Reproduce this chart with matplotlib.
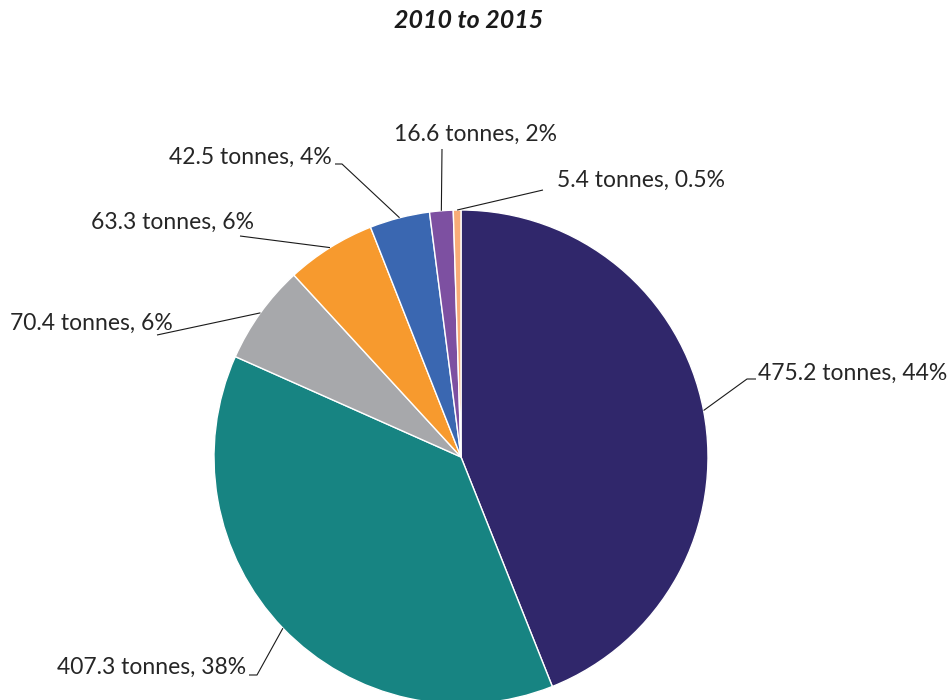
import numpy as np
import matplotlib.pyplot as plt

plt.rcParams['font.family'] = ['Lato', 'DejaVu Sans']

# tonnes per slice, clockwise from 12 o'clock
tonnes = [475.2, 407.3, 70.4, 63.3, 42.5, 16.6, 5.4]
pct_labels = ['44%', '38%', '6%', '6%', '4%', '2%', '0.5%']
colors = ['#30276b', '#178482', '#a7a8ab', '#f79a2e', '#3a67b1', '#7d50a1', '#f8ac78']
title = '2010 to 2015'

# pie geometry in pixel units
cx, cy, r = 461, 457, 247

# label placement: text anchor (x, y, ha) and leader bend points after the wedge point
label_pos = [
    ((758, 373, 'left'), [(747, 379), (756, 379)]),
    ((246, 667, 'right'), [(257, 675), (249, 675)]),
    ((173, 323, 'right'), [(157, 335)]),
    ((254, 222, 'right'), [(240, 236)]),
    ((332, 157, 'right'), [(342, 164), (335, 164)]),
    ((475, 134, 'center'), [(442, 149)]),
    ((557, 180, 'left'), [(543, 190)]),
]

fig = plt.figure(figsize=(9.52, 7), dpi=100)
ax = fig.add_axes([0, 0, 1, 1])

wedges, _ = ax.pie(tonnes, colors=colors, startangle=-90, counterclock=True,
                   center=(cx, cy), radius=r,
                   wedgeprops=dict(edgecolor='white', linewidth=1))

ax.set_xlim(0, 952)
ax.set_ylim(700, 0)
ax.set_aspect('equal')
ax.axis('off')

for w, v, p, (txt, bends) in zip(wedges, tonnes, pct_labels, label_pos):
    mid = np.deg2rad((w.theta1 + w.theta2) / 2)
    pts = [(cx + r * np.cos(mid), cy + r * np.sin(mid))] + bends
    xs, ys = zip(*pts)
    ax.plot(xs, ys, color='#1a1a1a', lw=0.8, solid_capstyle='butt')
    tx, ty, ha = txt
    ax.text(tx, ty, f'{v} tonnes, {p}', ha=ha, va='center',
            fontsize=16.5, color='#262626')

ax.text(469, 20, title, ha='center', va='center', fontsize=18,
        fontweight='bold', fontstyle='italic', color='#1a1a1a')

fig.savefig('out.png', dpi=100)
